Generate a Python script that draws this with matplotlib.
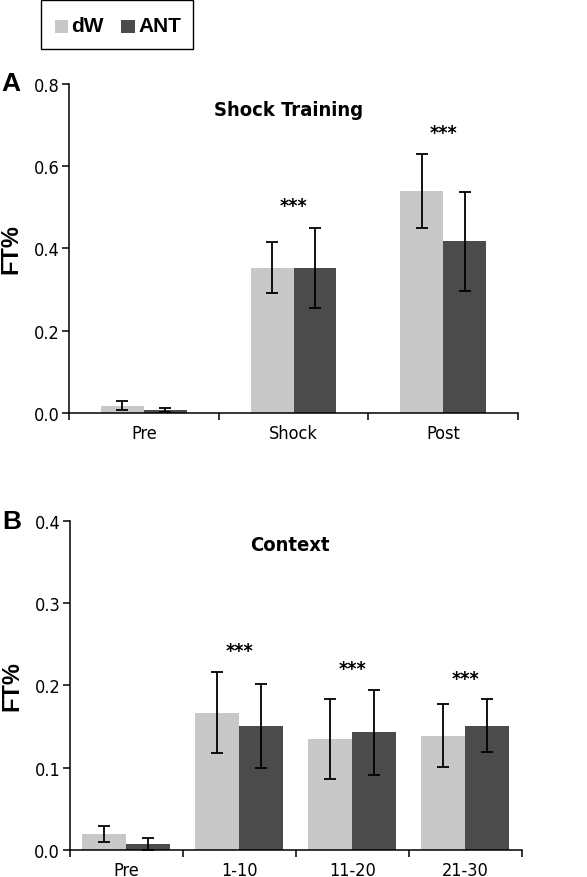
import matplotlib
matplotlib.use("Agg")
from matplotlib import pyplot as plt
from matplotlib import font_manager
from matplotlib.patches import Rectangle

# Panel A: shock training
cats_a = ["Pre", "Shock", "Post"]
dw_a = [0.018, 0.353, 0.540]
dw_a_err = [0.010, 0.062, 0.090]
ant_a = [0.007, 0.353, 0.417]
ant_a_err = [0.005, 0.097, 0.120]
stars_a = ["", "***", "***"]
stars_a_y = [0, 0.505, 0.683]

# Panel B: context
cats_b = ["Pre", "1-10", "11-20", "21-30"]
dw_b = [0.0195, 0.167, 0.135, 0.139]
dw_b_err = [0.0093, 0.049, 0.049, 0.038]
ant_b = [0.0073, 0.151, 0.143, 0.151]
ant_b_err = [0.0068, 0.051, 0.052, 0.032]
stars_b = ["", "***", "***", "***"]
stars_b_y = [0, 0.243, 0.221, 0.209]

LIGHT = "#c8c8c8"
DARK = "#4b4b4b"

fonts = font_manager.fontManager.ttflist
names = {f.name for f in fonts}
if "Liberation Sans Narrow" in names:
    NARROW = dict(family="Liberation Sans Narrow")
elif any(f.name == "DejaVu Sans" and "ondensed" in str(f.stretch) + f.fname for f in fonts):
    NARROW = dict(family="DejaVu Sans", stretch="condensed")
else:
    NARROW = dict(family="Liberation Sans")
BOLD = "Liberation Sans"


def draw_panel(ax, cats, dw, dw_err, ant, ant_err, stars, stars_y, ymax, yticks, title, title_x, title_y, width):
    x = list(range(len(cats)))
    xl = [i - width / 2 for i in x]
    xr = [i + width / 2 for i in x]
    err_kw = dict(ecolor="black", elinewidth=1.3, capsize=4, capthick=1.3)
    ax.bar(xl, dw, width, color=LIGHT, yerr=dw_err, error_kw=err_kw, zorder=2)
    ax.bar(xr, ant, width, color=DARK, yerr=ant_err, error_kw=err_kw, zorder=2)
    for i, s in enumerate(stars):
        if s:
            ax.text(i, stars_y[i], s, ha="center", va="center", fontsize=14,
                    fontweight="bold", **NARROW)
    ax.text(title_x, title_y, title, ha="center", va="center", fontsize=14.5,
            fontweight="bold", **NARROW)
    ax.set_xlim(-0.5, len(cats) - 0.5)
    ax.set_ylim(0, ymax)
    ax.set_yticks(yticks)
    ax.set_yticklabels([f"{t:.1f}" for t in yticks], fontsize=13, **NARROW)
    ax.set_xticks(x)
    ax.set_xticklabels(cats, fontsize=13, **NARROW)
    ax.set_xticks([i - 0.5 for i in range(len(cats) + 1)], minor=True)
    ax.tick_params(axis="x", which="major", length=0, pad=8)
    ax.tick_params(axis="x", which="minor", length=5, width=1.1, direction="out")
    ax.tick_params(axis="y", length=5, width=1.1, direction="out", pad=2)
    for s in ["top", "right"]:
        ax.spines[s].set_visible(False)
    for s in ["left", "bottom"]:
        ax.spines[s].set_linewidth(1.1)
    ax.set_ylabel("FT%", family=BOLD, fontweight="bold", fontsize=17, labelpad=8)


fig = plt.figure(figsize=(5.87, 8.78), dpi=100)

ax_a = fig.add_axes([0.1175, 0.5285, 0.765, 0.3747])
draw_panel(ax_a, cats_a, dw_a, dw_a_err, ant_a, ant_a_err, stars_a, stars_a_y,
           0.8, [0.0, 0.2, 0.4, 0.6, 0.8], "Shock Training", 0.97, 0.739, 0.287)

ax_b = fig.add_axes([0.119, 0.0308, 0.77, 0.3747])
draw_panel(ax_b, cats_b, dw_b, dw_b_err, ant_b, ant_b_err, stars_b, stars_b_y,
           0.4, [0.0, 0.1, 0.2, 0.3, 0.4], "Context", 1.45, 0.372, 0.39)

fig.text(0.003, 0.904, "A", fontsize=19, fontweight="bold", family=BOLD, va="center")
fig.text(0.003, 0.405, "B", fontsize=19, fontweight="bold", family=BOLD, va="center")

# legend box
fig.add_artist(Rectangle((41 / 587, 1 - 50 / 878), 152 / 587, 49 / 878, transform=fig.transFigure,
                         facecolor="white", edgecolor="black", linewidth=1.0))
fig.add_artist(Rectangle((55 / 587, 1 - 34 / 878), 13 / 587, 13 / 878, transform=fig.transFigure,
                         facecolor=LIGHT, edgecolor="none"))
fig.add_artist(Rectangle((121 / 587, 1 - 34 / 878), 14 / 587, 13 / 878, transform=fig.transFigure,
                         facecolor=DARK, edgecolor="none"))
fig.text(71 / 587, 1 - 27 / 878, "dW", fontsize=15, fontweight="bold", family=BOLD, va="center")
fig.text(138 / 587, 1 - 27 / 878, "ANT", fontsize=15, fontweight="bold", family=BOLD, va="center")

fig.savefig("out.png", dpi=100)
